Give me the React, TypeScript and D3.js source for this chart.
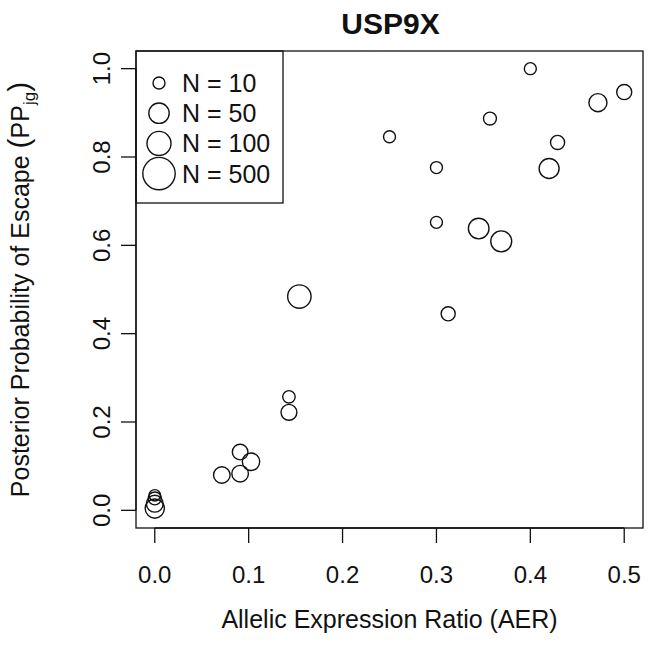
import React from 'react';
import * as d3 from 'd3';

// AER (x), posterior probability (y), read count N (circle size)
const aer = [0.40, 0.50, 0.472, 0.357, 0.25, 0.429, 0.42, 0.30, 0.30, 0.345, 0.369, 0.154, 0.3125,
  0.1429, 0.1429, 0.0909, 0.1025, 0.0714, 0.0909, 0, 0, 0, 0];
const ppEscape = [1.0, 0.947, 0.923, 0.887, 0.846, 0.833, 0.774, 0.776, 0.652, 0.638, 0.609, 0.484, 0.445,
  0.257, 0.222, 0.132, 0.110, 0.080, 0.083, 0.034, 0.027, 0.015, 0.004];
const readN = [10, 18, 32, 12, 10, 15, 46, 10, 10, 52, 56, 89, 15,
  11, 21, 20, 28, 24, 24, 9, 12, 25, 40];

const legendN = [10, 50, 100, 500];
const xTicks = [0, 0.1, 0.2, 0.3, 0.4, 0.5];
const yTicks = [0, 0.2, 0.4, 0.6, 0.8, 1.0];

const W = 654;
const H = 657;
const margin = { top: 51, right: 11, bottom: 129, left: 136 };
const FONT = '"Liberation Sans", Arial, Helvetica, sans-serif';
const FS = 24;
const FS_LAB = 25;
const INK = '#111';

export default function App() {
  const pw = W - margin.left - margin.right;
  const ph = H - margin.top - margin.bottom;

  // R style: data range padded by 4%
  const x = d3.scaleLinear().domain([-0.02, 0.52]).range([margin.left, margin.left + pw]);
  const y = d3.scaleLinear().domain([-0.04, 1.04]).range([margin.top + ph, margin.top]);
  const r = d3.scaleLinear().domain([0, 1]).range([0, 6]); // radius per log10(N)
  const rad = (n: number) => r(Math.log10(n));

  const bottom = margin.top + ph;
  const right = margin.left + pw;
  const cy = (margin.top + bottom) / 2;
  const cx = (margin.left + right) / 2;
  const legendRows = legendN.map((n, i) => margin.top + 32 + i * 30.2);

  return (
    <div style={{ position: 'fixed', left: 0, top: 0 }}>
      <svg width={W} height={H} style={{ display: 'block', background: '#fff' }} fontFamily={FONT}>
        <rect x={0} y={0} width={W} height={H} fill="#fff" />
        <text x={cx + 1} y={33.5} textAnchor="middle" fontWeight="bold" fontSize={30} fill={INK}>USP9X</text>

        {aer.map((a, i) => (
          <circle key={i} cx={x(a)} cy={y(ppEscape[i])} r={rad(readN[i])}
            fill="none" stroke={INK} strokeWidth={1.4} />
        ))}

        {/* legend */}
        <rect x={margin.left} y={margin.top} width={147} height={152} fill="#fff" stroke={INK} strokeWidth={1.3} />
        {legendN.map((n, i) => (
          <g key={n}>
            <circle cx={159} cy={legendRows[i]} r={rad(n)} fill="none" stroke={INK} strokeWidth={1.4} />
            <text x={182} y={legendRows[i] + 9} fontSize={FS_LAB} fill={INK}>{`N = ${n}`}</text>
          </g>
        ))}

        <rect x={margin.left} y={margin.top} width={pw} height={ph} fill="none" stroke={INK} strokeWidth={1.3} />

        {/* x axis */}
        <line x1={x(0)} x2={x(0.5)} y1={bottom} y2={bottom} stroke={INK} strokeWidth={1.3} />
        {xTicks.map(t => (
          <g key={t}>
            <line x1={x(t)} x2={x(t)} y1={bottom} y2={bottom + 15} stroke={INK} strokeWidth={1.3} />
            <text x={x(t)} y={583} textAnchor="middle" fontSize={FS} fill={INK}>{t.toFixed(1)}</text>
          </g>
        ))}
        <text x={cx} y={628} textAnchor="middle" fontSize={FS_LAB} fill={INK}>Allelic Expression Ratio (AER)</text>

        {/* y axis */}
        <line x1={margin.left} x2={margin.left} y1={y(0)} y2={y(1)} stroke={INK} strokeWidth={1.3} />
        {yTicks.map(t => (
          <g key={t}>
            <line x1={margin.left - 15} x2={margin.left} y1={y(t)} y2={y(t)} stroke={INK} strokeWidth={1.3} />
            <text transform={`translate(110,${y(t)}) rotate(-90)`} textAnchor="middle" fontSize={FS} fill={INK}>
              {t.toFixed(1)}
            </text>
          </g>
        ))}
        <text transform={`translate(28.5,${cy}) rotate(-90)`} textAnchor="middle" fontSize={FS_LAB} fill={INK}>
          Posterior Probability of Escape <tspan fontSize={30}>(</tspan>PP
          <tspan fontSize={17} dy={6}>jg</tspan>
          <tspan dy={-6} fontSize={30}>)</tspan>
        </text>
      </svg>
    </div>
  );
}
